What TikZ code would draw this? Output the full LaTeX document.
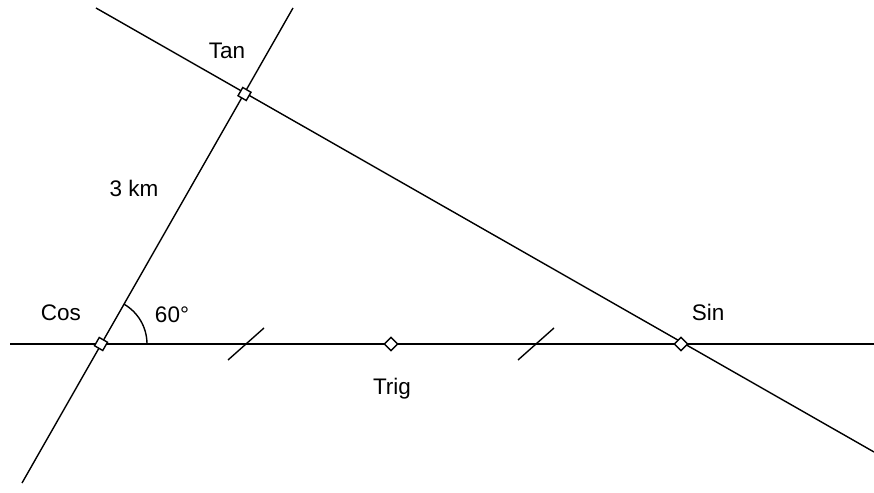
\documentclass[tikz,border=0pt]{standalone}
\usepackage{fontspec}
\setmainfont{Liberation Sans}
\usetikzlibrary{calc}

\begin{document}
\begin{tikzpicture}[x=1pt, y=1pt, line width=1.4pt,
    vertex/.style={draw, fill=white, line width=1.4pt, rectangle, minimum size=9.5pt, inner sep=0pt, rotate=45},
    label/.style={anchor=base, font=\fontsize{22.5}{26}\selectfont}]
    \fill[white] (0,0) rectangle (874,492);
    \useasboundingbox (0,0) rectangle (874,492);

    % Points
    \coordinate (cos) at (101,148);
    \coordinate (tan) at (244.5,398);
    \coordinate (trig) at (391,148);
    \coordinate (sin) at (681,148);

    % Line ends
    \coordinate (west) at (10,148);
    \coordinate (east) at (874,148);
    \coordinate (cosend) at (22,9);
    \coordinate (tanend) at (293,484);
    \coordinate (hyptop) at (96,484);
    \coordinate (hypend) at (874,40);

    % Draw lines
    \draw (west) -- (east);
    \draw (cosend) -- (tanend);
    \draw (hyptop) -- (hypend);

    % Equal length marks
    \coordinate (m1) at ($(cos)!0.5!(trig)$);
    \coordinate (m2) at ($(trig)!0.5!(sin)$);
    \draw ([shift={(-18,-16)}]m1) -- ([shift={(18,16)}]m1);
    \draw ([shift={(-18,-16)}]m2) -- ([shift={(18,16)}]m2);

    % Angle at Cos
    \draw ([shift={(46,0)}]cos) arc (0:60:46);

    % Markers
    \node[vertex, rotate=15] (cosmark) at (cos) {};
    \node[vertex, rotate=15] (tanmark) at (tan) {};
    \node[vertex] (trigmark) at (trig) {};
    \node[vertex] (sinmark) at (sin) {};

    % Labels
    \node[label] (tanlbl) at (227,433) {Tan};
    \node[label] (kmlbl) at (134,295) {3 km};
    \node[label] (coslbl) at (61,171) {Cos};
    \node[label] (anglbl) at (172,169) {60°};
    \node[label] (triglbl) at (392,97) {Trig};
    \node[label] (sinlbl) at (708,171) {Sin};
\end{tikzpicture}
\end{document}
